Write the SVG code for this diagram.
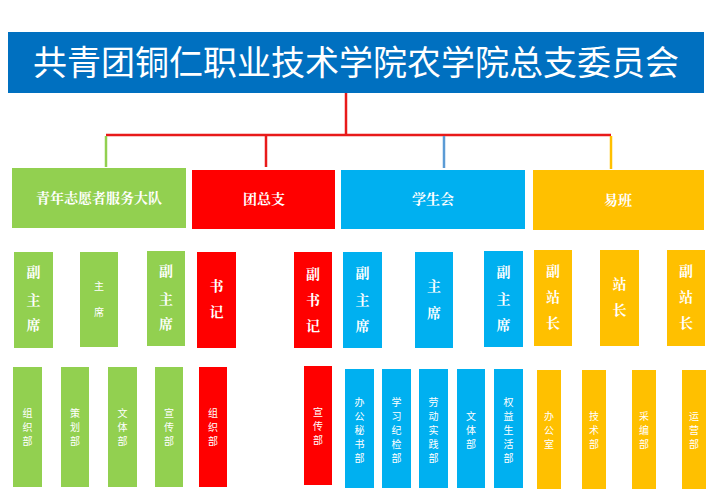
<svg xmlns="http://www.w3.org/2000/svg" width="710" height="502" viewBox="0 0 710 502">
<style>
.g{fill:#92d050}.r{fill:#ff0000}.b{fill:#00b0f0}.y{fill:#ffc000}
.t{fill:#fff;font-family:"Noto Sans CJK SC","Noto Sans CJK JP",sans-serif;text-anchor:middle}
.h{fill:#fff;font-family:"Noto Serif CJK SC","Noto Sans CJK SC",serif;font-weight:bold;font-size:14px;text-anchor:middle}
.s{fill:#fff;font-family:"Noto Sans CJK SC",sans-serif;font-size:10px;text-anchor:middle}
</style>
<rect width="710" height="502" fill="#fff"/>
<g id="title"><rect x="8" y="32" width="696" height="61" fill="#0070c0"/><text class="t" x="356" y="75" font-size="34">共青团铜仁职业技术学院农学院总支委员会</text></g>
<g id="connectors" fill="none" stroke-width="2.5">
<path d="M346 93V135" stroke="#e81a1a"/>
<path d="M106 135H611" stroke="#e81a1a"/>
<path d="M106 136V167" stroke="#92d050"/>
<path d="M266 136V167" stroke="#e81a1a"/>
<path d="M444 136V168" stroke="#5b9bd5"/>
<path d="M611 136V169" stroke="#ffc000"/>
</g>
<g id="n-qn"><rect class="g" x="12" y="168" width="174" height="60"/><text class="h" x="99" y="203">青年志愿者服务大队</text></g>
<g id="n-tzz"><rect class="r" x="192" y="170" width="143" height="59"/><text class="h" x="264" y="204">团总支</text></g>
<g id="n-xsh"><rect class="b" x="341" y="170" width="184" height="59"/><text class="h" x="433" y="204">学生会</text></g>
<g id="n-yb"><rect class="y" x="533" y="170" width="171" height="60"/><text class="h" x="618" y="205">易班</text></g>

<g id="g1"><rect class="g" x="14" y="252" width="39" height="96"/><text class="h" x="33.5" y="277">副</text><text class="h" x="33.5" y="305">主</text><text class="h" x="33.5" y="330">席</text></g>
<g id="g2"><rect class="g" x="80" y="252" width="38" height="95"/><text class="s" x="99" y="290">主</text><text class="s" x="99" y="316">席</text></g>
<g id="g3"><rect class="g" x="147" y="251" width="38" height="95"/><text class="h" x="166" y="276">副</text><text class="h" x="166" y="304">主</text><text class="h" x="166" y="329">席</text></g>
<g id="r1"><rect class="r" x="197" y="252" width="39" height="96"/><text class="h" x="216.5" y="291">书</text><text class="h" x="216.5" y="317">记</text></g>
<g id="r2"><rect class="r" x="294" y="252" width="38" height="96"/><text class="h" x="313" y="279">副</text><text class="h" x="313" y="305">书</text><text class="h" x="313" y="331">记</text></g>
<g id="b1"><rect class="b" x="343" y="252" width="39" height="96"/><text class="h" x="362.5" y="278">副</text><text class="h" x="362.5" y="305">主</text><text class="h" x="362.5" y="331">席</text></g>
<g id="b2"><rect class="b" x="415" y="252" width="38" height="96"/><text class="h" x="434" y="291">主</text><text class="h" x="434" y="318">席</text></g>
<g id="b3"><rect class="b" x="484" y="251" width="39" height="96"/><text class="h" x="503.5" y="277">副</text><text class="h" x="503.5" y="304">主</text><text class="h" x="503.5" y="330">席</text></g>
<g id="y1"><rect class="y" x="534" y="250" width="38" height="96"/><text class="h" x="553" y="276">副</text><text class="h" x="553" y="302">站</text><text class="h" x="553" y="328">长</text></g>
<g id="y2"><rect class="y" x="600" y="250" width="39" height="96"/><text class="h" x="619.5" y="289">站</text><text class="h" x="619.5" y="315">长</text></g>
<g id="y3"><rect class="y" x="667" y="250" width="38" height="96"/><text class="h" x="686" y="276">副</text><text class="h" x="686" y="302">站</text><text class="h" x="686" y="328">长</text></g>

<g id="d1"><rect class="g" x="13" y="367" width="29" height="120"/><text class="s" x="27.5" y="417">组</text><text class="s" x="27.5" y="431">织</text><text class="s" x="27.5" y="445">部</text></g>
<g id="d2"><rect class="g" x="61" y="367" width="28" height="120"/><text class="s" x="75" y="417">策</text><text class="s" x="75" y="431">划</text><text class="s" x="75" y="445">部</text></g>
<g id="d3"><rect class="g" x="108" y="367" width="29" height="120"/><text class="s" x="122.5" y="417">文</text><text class="s" x="122.5" y="431">体</text><text class="s" x="122.5" y="445">部</text></g>
<g id="d4"><rect class="g" x="155" y="367" width="28" height="120"/><text class="s" x="169" y="417">宣</text><text class="s" x="169" y="431">传</text><text class="s" x="169" y="445">部</text></g>
<g id="d5"><rect class="r" x="199" y="367" width="28" height="120"/><text class="s" x="213" y="417">组</text><text class="s" x="213" y="431">织</text><text class="s" x="213" y="445">部</text></g>
<g id="d6"><rect class="r" x="304" y="366" width="28" height="119"/><text class="s" x="318" y="416">宣</text><text class="s" x="318" y="430">传</text><text class="s" x="318" y="444">部</text></g>
<g id="d7"><rect class="b" x="345" y="369" width="29" height="119"/><text class="s" x="359.5" y="406">办</text><text class="s" x="359.5" y="420">公</text><text class="s" x="359.5" y="434">秘</text><text class="s" x="359.5" y="448">书</text><text class="s" x="359.5" y="462">部</text></g>
<g id="d8"><rect class="b" x="382" y="369" width="29" height="119"/><text class="s" x="396.5" y="406">学</text><text class="s" x="396.5" y="420">习</text><text class="s" x="396.5" y="434">纪</text><text class="s" x="396.5" y="448">检</text><text class="s" x="396.5" y="462">部</text></g>
<g id="d9"><rect class="b" x="419" y="369" width="29" height="119"/><text class="s" x="433.5" y="406">劳</text><text class="s" x="433.5" y="420">动</text><text class="s" x="433.5" y="434">实</text><text class="s" x="433.5" y="448">践</text><text class="s" x="433.5" y="462">部</text></g>
<g id="d10"><rect class="b" x="457" y="369" width="28" height="119"/><text class="s" x="471" y="420">文</text><text class="s" x="471" y="434">体</text><text class="s" x="471" y="448">部</text></g>
<g id="d11"><rect class="b" x="494" y="369" width="29" height="119"/><text class="s" x="508.5" y="406">权</text><text class="s" x="508.5" y="420">益</text><text class="s" x="508.5" y="434">生</text><text class="s" x="508.5" y="448">活</text><text class="s" x="508.5" y="462">部</text></g>
<g id="d12"><rect class="y" x="537" y="370" width="24" height="119"/><text class="s" x="549" y="420">办</text><text class="s" x="549" y="434">公</text><text class="s" x="549" y="448">室</text></g>
<g id="d13"><rect class="y" x="582" y="370" width="24" height="119"/><text class="s" x="594" y="420">技</text><text class="s" x="594" y="434">术</text><text class="s" x="594" y="448">部</text></g>
<g id="d14"><rect class="y" x="632" y="370" width="24" height="119"/><text class="s" x="644" y="420">采</text><text class="s" x="644" y="434">编</text><text class="s" x="644" y="448">部</text></g>
<g id="d15"><rect class="y" x="682" y="370" width="24" height="119"/><text class="s" x="694" y="420">运</text><text class="s" x="694" y="434">营</text><text class="s" x="694" y="448">部</text></g>
</svg>
